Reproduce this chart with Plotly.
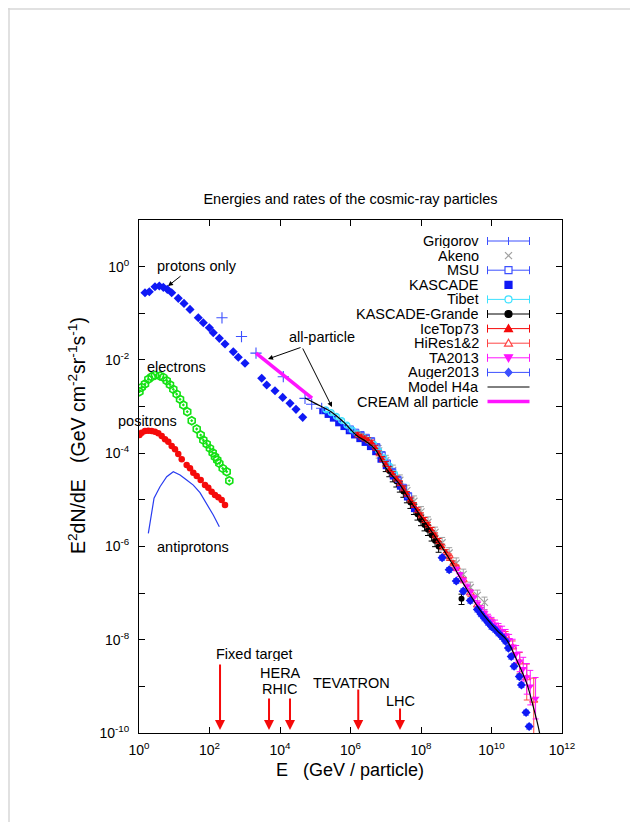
import plotly.graph_objects as go
import math

# ---------------- data ----------------
# protons only (blue diamonds)
protons_E = [1.48, 1.96, 2.84, 3.77, 4.90, 6.35, 8.47, 13.0, 18.9, 28.0, 48.1, 66.7, 98.9, 128, 190, 275, 473, 656, 1016,
             3027, 4198, 7211, 11940, 19230, 28440, 44060]
protons_F = [0.275, 0.290, 0.371, 0.384, 0.360, 0.326, 0.275, 0.209, 0.163, 0.121, 0.080, 0.0627, 0.0490, 0.0383, 0.0290,
             0.0219, 0.0150, 0.0114, 0.00845, 0.00403, 0.00289, 0.00218, 0.00157, 0.00117, 0.000871, 0.000587]

# electrons (green open hexagons)
electrons_E = [1.03, 1.19, 1.48, 1.84, 2.29, 2.84, 3.94, 4.89, 6.11, 7.57, 9.40, 11.7, 14.6, 18.1, 23.4, 31.3, 43.4, 56.2,
               66.7, 83.4, 103, 123, 143, 166, 190, 237, 308, 365]
electrons_F = [2.08e-3, 2.58e-3, 3.04e-3, 3.84e-3, 4.36e-3, 4.67e-3, 4.51e-3, 4.23e-3, 3.58e-3, 2.94e-3, 2.34e-3, 1.85e-3,
               1.43e-3, 1.08e-3, 7.74e-4, 4.97e-4, 3.30e-4, 2.45e-4, 1.91e-4, 1.57e-4, 1.27e-4, 1.02e-4, 8.39e-5, 7.13e-5,
               6.05e-5, 4.73e-5, 4.00e-5, 2.56e-5]

# positrons (red filled circles)
positrons_E = [1.03, 1.19, 1.48, 1.84, 2.29, 2.84, 3.53, 4.41, 5.47, 6.78, 8.47, 10.5, 13.0, 16.3, 22.5, 28.0, 34.7, 43.4,
               56.2, 74.5, 92.5, 115, 143, 178, 222, 275]
positrons_F = [2.45e-4, 2.75e-4, 2.99e-4, 3.03e-4, 2.99e-4, 2.88e-4, 2.67e-4, 2.33e-4, 1.98e-4, 1.76e-4, 1.43e-4, 1.21e-4,
               9.59e-5, 7.38e-5, 5.57e-5, 4.73e-5, 3.81e-5, 3.24e-5, 2.66e-5, 2.07e-5, 1.82e-5, 1.49e-5, 1.27e-5, 1.13e-5,
               9.91e-6, 7.74e-6]

# antiprotons (blue line)
antiprotons_E = [1.84, 2.67, 3.94, 6.11, 9.40, 14.6, 22.5, 34.7, 53.7, 83.4, 128, 190]
antiprotons_F = [1.91e-6, 1.08e-5, 1.91e-5, 3.13e-5, 4.00e-5, 3.40e-5, 2.66e-5, 2.07e-5, 1.42e-5, 8.41e-6, 4.72e-6, 2.65e-6]

# Grigorov
grigorov_E = [226, 809, 2085, 12400, 51200, 79300, 152000]
grigorov_F = [0.080, 0.0317, 0.0140, 0.00436, 0.00150, 0.00112, 0.000916]

# Tibet
tibet_E = [2.00e5, 2.82e5, 3.98e5, 5.62e5, 7.94e5, 1.12e6, 1.58e6, 2.24e6, 3.16e6, 4.47e6, 6.31e6, 8.91e6, 1.26e7, 1.78e7]
tibet_F = [8.51e-4, 7.41e-4, 6.17e-4, 5.01e-4, 3.98e-4, 3.16e-4, 2.63e-4, 2.24e-4, 1.91e-4, 1.58e-4, 1.12e-4, 7.94e-5,
           5.37e-5, 3.63e-5]

# KASCADE
kascade_E = [1.58e5, 2.24e5, 3.16e5, 4.47e5, 6.31e5, 8.91e5, 1.26e6, 1.78e6, 2.51e6, 3.55e6, 5.01e6, 7.08e6, 1.0e7,
             1.58e7, 2.51e7, 3.98e7, 6.31e7]
kascade_F = [7.94e-4, 6.61e-4, 5.50e-4, 4.37e-4, 3.63e-4, 2.95e-4, 2.40e-4, 2.00e-4, 1.66e-4, 1.35e-4, 1.05e-4, 7.24e-5,
             5.25e-5, 3.16e-5, 1.91e-5, 1.12e-5, 6.31e-6]

# MSU
msu_E = [1.0e6, 1.41e6, 2.0e6, 2.82e6, 3.98e6, 5.62e6, 7.94e6, 1.12e7, 1.58e7, 2.24e7, 3.16e7, 4.47e7]
msu_F = [3.31e-4, 2.82e-4, 2.51e-4, 2.19e-4, 1.86e-4, 1.38e-4, 9.33e-5, 6.17e-5, 4.07e-5, 2.75e-5, 1.86e-5, 1.23e-5]

# IceTop73
icetop_E = [1.58e6, 2.00e6, 2.51e6, 3.16e6, 3.98e6, 5.01e6, 6.31e6, 7.94e6, 1.0e7, 1.26e7, 1.58e7, 2.00e7, 2.51e7, 3.16e7,
            3.98e7, 5.01e7, 6.31e7, 7.94e7, 1.0e8, 1.26e8, 1.58e8, 2.00e8, 2.51e8, 3.16e8, 3.98e8, 5.01e8, 6.31e8,
            7.94e8, 1.0e9]
icetop_F = [2.51e-4, 2.29e-4, 2.09e-4, 1.91e-4, 1.70e-4, 1.32e-4, 1.00e-4, 7.59e-5, 5.89e-5, 4.57e-5, 3.63e-5, 2.88e-5,
            2.29e-5, 1.78e-5, 1.35e-5, 1.02e-5, 7.76e-6, 6.03e-6, 4.68e-6, 3.72e-6, 2.95e-6, 2.29e-6, 1.74e-6, 1.32e-6,
            1.00e-6, 7.59e-7, 5.75e-7, 4.37e-7, 3.47e-7]

# KASCADE-Grande
kgrande_E = [1.0e7, 1.26e7, 1.58e7, 2.0e7, 2.51e7, 3.16e7, 3.98e7, 5.01e7, 6.31e7, 7.94e7, 1.0e8, 1.26e8, 1.58e8, 2.0e8,
             2.51e8, 3.16e8, 1.41e9]
kgrande_F = [5.37e-5, 4.17e-5, 3.24e-5, 2.51e-5, 1.95e-5, 1.51e-5, 1.15e-5, 8.71e-6, 6.46e-6, 4.90e-6, 3.72e-6, 2.88e-6,
             2.29e-6, 1.74e-6, 1.32e-6, 1.00e-6, 7.59e-8]

# Akeno
akeno_E = [6.31e6, 1.0e7, 1.58e7, 2.51e7, 3.98e7, 6.31e7, 1.0e8, 1.58e8, 2.51e8, 3.98e8, 6.31e8, 1.0e9, 1.58e9, 2.51e9,
           3.98e9, 6.31e9]
akeno_F = [1.12e-4, 6.92e-5, 4.27e-5, 2.63e-5, 1.58e-5, 9.33e-6, 5.50e-6, 3.31e-6, 2.00e-6, 1.20e-6, 7.24e-7, 4.37e-7,
           2.51e-7, 1.32e-7, 8.91e-8, 6.31e-8]

# HiRes1&2
hires_E = [6.31e8, 1.0e9, 1.58e9, 2.51e9, 3.98e9, 6.31e9, 1.0e10, 1.58e10, 2.51e10, 3.98e10, 6.31e10, 1.0e11, 1.58e11]
hires_F = [6.31e-7, 3.63e-7, 1.91e-7, 1.00e-7, 5.50e-8, 3.47e-8, 2.40e-8, 1.66e-8, 1.20e-8, 6.92e-9, 3.31e-9, 1.51e-9,
           5.01e-10]
hires_err_plus = [6e-8, 4e-8, 2.5e-8, 1.5e-8, 8e-9, 5e-9, 4e-9, 3e-9, 3e-9, 2.5e-9, 2e-9, 1.5e-9, 1.0e-9]
hires_err_minus = [6e-8, 4e-8, 2.5e-8, 1.5e-8, 8e-9, 5e-9, 4e-9, 3e-9, 2.5e-9, 2e-9, 1.4e-9, 1.0e-9, 4.5e-10]

# TA2013
ta_E = [1.0e9, 1.26e9, 1.58e9, 2.0e9, 2.51e9, 3.16e9, 3.98e9, 5.01e9, 6.31e9, 7.94e9, 1.0e10, 1.26e10, 1.58e10, 2.0e10,
        2.51e10, 3.16e10, 3.98e10, 5.01e10, 6.31e10, 7.94e10, 1.0e11, 1.26e11, 1.78e11]
ta_F = [3.31e-7, 2.51e-7, 1.91e-7, 1.41e-7, 1.05e-7, 7.94e-8, 6.03e-8, 4.68e-8, 3.72e-8, 3.02e-8, 2.51e-8, 2.14e-8,
        1.82e-8, 1.55e-8, 1.26e-8, 1.00e-8, 7.24e-9, 5.01e-9, 3.47e-9, 2.40e-9, 1.58e-9, 1.00e-9, 5.50e-10]
ta_err_plus = [3e-8, 2.5e-8, 2e-8, 1.5e-8, 1.2e-8, 1e-8, 8e-9, 7e-9, 6e-9, 5e-9, 5e-9, 5e-9, 4e-9, 4e-9, 4e-9, 3e-9,
               3e-9, 2.5e-9, 2e-9, 1.8e-9, 1.5e-9, 1.2e-9, 1.0e-9]
ta_err_minus = [3e-8, 2.5e-8, 2e-8, 1.5e-8, 1.2e-8, 1e-8, 8e-9, 7e-9, 6e-9, 5e-9, 5e-9, 4e-9, 3.5e-9, 3e-9, 3e-9,
                2.5e-9, 2.2e-9, 1.8e-9, 1.4e-9, 1.1e-9, 0.9e-9, 0.6e-9, 3.5e-10]

# Auger2013
auger_E = [3.98e8, 6.31e8, 1.0e9, 1.58e9, 2.51e9, 3.98e9, 5.01e9, 6.31e9, 7.94e9, 1.0e10, 1.26e10, 1.58e10, 2.0e10,
           2.51e10, 3.02e10, 3.63e10, 4.37e10, 6.17e10, 7.08e10, 9.55e10, 1.17e11]
auger_F = [5.75e-7, 3.16e-7, 1.82e-7, 1.10e-7, 6.92e-8, 4.47e-8, 3.55e-8, 2.88e-8, 2.34e-8, 1.91e-8, 1.66e-8, 1.38e-8,
           1.15e-8, 9.33e-9, 6.61e-9, 4.37e-9, 2.69e-9, 1.62e-9, 1.07e-9, 2.75e-10, 1.38e-10]

# Model H4a (black line)
h4a_E = [5.12e4, 1.0e5, 2.93e5, 6.31e5, 1.50e6, 2.88e6, 5.01e6, 1.06e7, 2.54e7, 4.88e7, 1.0e8, 2.23e8, 6.65e8, 1.58e9,
         4.72e9, 1.40e10, 2.70e10, 5.19e10, 9.98e10, 1.53e11, 2.27e11, 2.63e11]
h4a_F = [1.52e-3, 1.17e-3, 7.59e-4, 4.68e-4, 2.40e-4, 1.74e-4, 1.20e-4, 4.57e-5, 2.09e-5, 9.55e-6, 4.37e-6, 1.86e-6,
         5.13e-7, 1.62e-7, 4.34e-8, 1.61e-8, 9.86e-9, 3.67e-9, 1.16e-9, 3.66e-10, 1.07e-10, 5.0e-11]

# CREAM all particle (magenta thick line)
cream_E = [2085, 80900]
cream_F = [0.0140, 0.00152]

# accelerator energies (red arrows)
accel_names = ["Fixed target", "HERA", "RHIC", "TEVATRON", "LHC"]
accel_E = [199, 4.88e3, 1.92e4, 1.66e6, 2.54e7]

# axis ticks
x_tickvals = [1, 1e2, 1e4, 1e6, 1e8, 1e10, 1e12]
x_ticktext = ["10<sup>0</sup>", "10<sup>2</sup>", "10<sup>4</sup>", "10<sup>6</sup>", "10<sup>8</sup>",
              "10<sup>10</sup>", "10<sup>12</sup>"]
y_tickvals = [1e-10, 1e-9, 1e-8, 1e-7, 1e-6, 1e-5, 1e-4, 1e-3, 1e-2, 1e-1, 1]
y_ticktext = ["10<sup>-10</sup>", "", "10<sup>-8</sup>", "", "10<sup>-6</sup>", "", "10<sup>-4</sup>", "",
              "10<sup>-2</sup>", "", "10<sup>0</sup>"]

legend_names = ["Grigorov", "Akeno", "MSU", "KASCADE", "Tibet", "KASCADE-Grande", "IceTop73", "HiRes1&2",
                "TA2013", "Auger2013", "Model H4a", "CREAM all particle"]

# ---------------- styling ----------------
FONT = "Liberation Sans, Arial, Helvetica, sans-serif"
OFF = 8                      # page body margin of the html page
W, H = 638 - 2 * OFF, 830 - 2 * OFF
PL, PR, PT, PB = 139, 562, 220, 733   # plot area in screen pixels

BLUE = "rgb(15,25,245)"
BLUE_L = "rgb(60,80,255)"
CYAN = "rgb(60,225,255)"
RED = "rgb(245,10,10)"
RED_L = "rgb(255,70,70)"
MAG = "rgb(255,20,255)"
GREEN = "rgb(20,225,20)"
GREY = "rgb(160,160,160)"


def px(x):
    return (x - PL) / (PR - PL)


def py(y):
    return (PB - y) / (PB - PT)


fig = go.Figure()


def add(E, F, **kw):
    fig.add_trace(go.Scatter(x=E, y=F, showlegend=False, **kw))


def errs(color, value=None, plus=None, minus=None):
    if plus is not None:
        return dict(type="data", array=plus, arrayminus=minus, color=color, thickness=1, width=3, visible=True)
    return dict(type="percent", value=value, color=color, thickness=1, width=3, visible=True)


add(akeno_E, akeno_F, name="Akeno", mode="markers",
    marker=dict(symbol="x-thin-open", size=7, line=dict(color=GREY, width=1.2), color=GREY),
    error_y=errs(GREY, value=30))
add(kgrande_E, kgrande_F, name="KASCADE-Grande", mode="markers",
    marker=dict(symbol="circle", size=6, color="black"), error_y=errs("black", value=25))
add(kascade_E, kascade_F, name="KASCADE", mode="markers",
    marker=dict(symbol="square", size=6, color=BLUE))
add(msu_E, msu_F, name="MSU", mode="markers",
    marker=dict(symbol="square-open", size=6, color=BLUE_L, line=dict(width=1)), error_y=errs(BLUE_L, value=10))
add(tibet_E, tibet_F, name="Tibet", mode="markers",
    marker=dict(symbol="circle-open", size=6, color=CYAN, line=dict(width=1.2)), error_y=errs(CYAN, value=8))
add(icetop_E, icetop_F, name="IceTop73", mode="markers",
    marker=dict(symbol="triangle-up", size=6, color=RED), error_y=errs(RED, value=12))
add(hires_E, hires_F, name="HiRes1&2", mode="markers",
    marker=dict(symbol="triangle-up-open", size=7, color=RED_L, line=dict(width=1.2)),
    error_y=errs(RED_L, plus=hires_err_plus, minus=hires_err_minus))
add(ta_E, ta_F, name="TA2013", mode="markers",
    marker=dict(symbol="triangle-down", size=7, color=MAG),
    error_y=errs(MAG, plus=ta_err_plus, minus=ta_err_minus))
add(auger_E, auger_F, name="Auger2013", mode="markers",
    marker=dict(symbol="diamond", size=7, color=BLUE), error_y=errs(BLUE_L, value=12))
add(grigorov_E, grigorov_F, name="Grigorov", mode="markers",
    marker=dict(symbol="cross-thin-open", size=8, color=BLUE_L, line=dict(color=BLUE_L, width=1.1)))
add(protons_E, protons_F, name="protons only", mode="markers",
    marker=dict(symbol="diamond", size=7, color=BLUE))
add(electrons_E, electrons_F, name="electrons", mode="markers",
    marker=dict(symbol="hexagon-open-dot", size=8, color=GREEN, line=dict(color=GREEN, width=1.6)))
add(positrons_E, positrons_F, name="positrons", mode="markers",
    marker=dict(symbol="circle", size=6.5, color=RED))
add(antiprotons_E, antiprotons_F, name="antiprotons", mode="lines",
    line=dict(color="rgb(40,60,240)", width=1.2))
add(h4a_E, h4a_F, name="Model H4a", mode="lines", line=dict(color="black", width=1.2, shape="spline"))
add(cream_E, cream_F, name="CREAM all particle", mode="lines", line=dict(color=MAG, width=3.5))

annotations = []
shapes = []


def text(s, x, y, xanchor="center", size=14.5, **kw):
    annotations.append(dict(text=s, x=px(x), y=py(y), xref="paper", yref="paper", xanchor=xanchor,
                            yanchor="middle", showarrow=False, font=dict(family=FONT, size=size, color="black"), **kw))


def arrow(xt, yt, ax, ay, color="black", width=1):
    annotations.append(dict(text="", x=px(xt), y=py(yt), xref="paper", yref="paper", ax=ax, ay=ay,
                            showarrow=True, arrowhead=2, arrowsize=1.0, arrowwidth=width, arrowcolor=color))


# labels on the data
text("protons only", 155, 266, xanchor="left")
arrow(168, 286, 14, -11)
text("electrons", 145, 367, xanchor="left")
text("positrons", 179, 421, xanchor="right")
text("antiprotons", 155, 547, xanchor="left")
text("all-particle", 287, 337, xanchor="left")
arrow(268, 359, 34, -12)
arrow(332, 407, -30, -60)

# accelerator arrows (x from data energies, on the log axis)
accel_label_pos = [(254, 653), (280, 672), (279, 688), (351, 682), (400, 700)]
accel_tail = [67, 33, 33, 42, 23]
for name, e, (lx, ly), tl in zip(accel_names, accel_E, accel_label_pos, accel_tail):
    annotations.append(dict(text="", x=math.log10(e), y=py(730), xref="x", yref="paper", ax=0, ay=-tl,
                            showarrow=True, arrowhead=2, arrowsize=1.0, arrowwidth=2, arrowcolor=RED))
    text(name, lx, ly, height=15)

# axis titles
text("E\u00a0\u00a0\u00a0(GeV / particle)", 350, 770, size=18)
text("E<sup>2</sup>dN/dE\u00a0\u00a0\u00a0(GeV cm<sup>-2</sup>sr<sup>-1</sup>s<sup>-1</sup>)", 77, 436, size=19.5,
     textangle=-90)

# custom legend: text on the left, sample on the right
leg_colors = [BLUE_L, GREY, BLUE_L, BLUE, CYAN, "black", RED, RED_L, MAG, BLUE_L, "black", MAG]
x0, x1, xm = 487.5, 529.5, 508.5
for i, (name, col) in enumerate(zip(legend_names, leg_colors)):
    y = 241 + 14.6 * i
    text(name, 481, y, xanchor="right", size=14.5, height=14, valign="middle")
    if name in ("Akeno", "KASCADE"):
        pass
    elif name == "Model H4a":
        shapes.append(dict(type="line", xref="paper", yref="paper", x0=px(x0), x1=px(x1), y0=py(y), y1=py(y),
                           line=dict(color="black", width=1)))
    elif name == "CREAM all particle":
        shapes.append(dict(type="line", xref="paper", yref="paper", x0=px(x0), x1=px(x1), y0=py(y), y1=py(y),
                           line=dict(color=MAG, width=3.5)))
    else:
        shapes.append(dict(type="line", xref="paper", yref="paper", x0=px(x0), x1=px(x1), y0=py(y), y1=py(y),
                           line=dict(color=col, width=1)))
        for xc in (x0, x1):
            shapes.append(dict(type="line", xref="paper", yref="paper", x0=px(xc), x1=px(xc), y0=py(y - 4),
                               y1=py(y + 4), line=dict(color=col, width=1)))
    r = 3.5
    if name == "Grigorov":
        shapes.append(dict(type="line", xref="paper", yref="paper", x0=px(xm), x1=px(xm), y0=py(y - 4),
                           y1=py(y + 4), line=dict(color=col, width=1)))
    elif name == "Akeno":
        for dx in (-1, 1):
            shapes.append(dict(type="line", xref="paper", yref="paper", x0=px(xm - 3.5 * dx), x1=px(xm + 3.5 * dx),
                               y0=py(y - 3.5), y1=py(y + 3.5), line=dict(color=col, width=1.2)))
    elif name in ("MSU", "KASCADE"):
        filled = name == "KASCADE"
        shapes.append(dict(type="rect", xref="paper", yref="paper", x0=px(xm - r), x1=px(xm + r), y0=py(y - r),
                           y1=py(y + r), line=dict(color=col, width=1.2), fillcolor=col if filled else "white"))
    elif name in ("Tibet", "KASCADE-Grande"):
        filled = name == "KASCADE-Grande"
        shapes.append(dict(type="circle", xref="paper", yref="paper", x0=px(xm - r), x1=px(xm + r), y0=py(y - r),
                           y1=py(y + r), line=dict(color=col, width=1.2), fillcolor=col if filled else "white"))
    elif name in ("IceTop73", "HiRes1&2", "TA2013", "Auger2013"):
        if name == "TA2013":
            pts = [(xm - 4, y - 3), (xm + 4, y - 3), (xm, y + 4)]
        elif name == "Auger2013":
            pts = [(xm, y - 4), (xm + 3.5, y), (xm, y + 4), (xm - 3.5, y)]
        else:
            pts = [(xm - 4, y + 3), (xm + 4, y + 3), (xm, y - 4)]
        path = "M " + " L ".join(f"{px(a):.5f},{py(b):.5f}" for a, b in pts) + " Z"
        filled = name != "HiRes1&2"
        shapes.append(dict(type="path", xref="paper", yref="paper", path=path,
                           line=dict(color=col, width=1.2), fillcolor=col if filled else "white"))

# faint page frame seen in the reference (as close to the edge as the figure allows)
shapes.append(dict(type="line", xref="paper", yref="paper", x0=px(OFF + 1), x1=px(OFF + 1), y0=py(OFF),
                   y1=py(830 - OFF), line=dict(color="rgb(215,215,215)", width=1.5)))
shapes.append(dict(type="line", xref="paper", yref="paper", x0=px(OFF), x1=px(638 - OFF), y0=py(OFF + 1),
                   y1=py(OFF + 1), line=dict(color="rgb(215,215,215)", width=1.5)))

axis_common = dict(type="log", showgrid=False, zeroline=False, showline=True, linecolor="black", linewidth=1,
                   mirror="ticks", ticks="inside", ticklen=6, tickwidth=1, tickcolor="black",
                   tickfont=dict(family=FONT, size=14, color="black"))

fig.update_layout(
    width=W, height=H, autosize=False,
    margin=dict(l=PL - OFF, r=638 - OFF - PR, t=PT - OFF, b=830 - OFF - PB, pad=0),
    paper_bgcolor="white", plot_bgcolor="white",
    font=dict(family=FONT, size=14, color="black"),
    title=dict(text="Energies and rates of the cosmic-ray particles", x=0.5, xref="paper", xanchor="center",
               y=1 - (199 - OFF) / H, yref="container", yanchor="middle",
               font=dict(family=FONT, size=14.5, color="black")),
    xaxis=dict(range=[0, 12], tickvals=x_tickvals, ticktext=x_ticktext, ticklabelstandoff=4, **axis_common),
    yaxis=dict(range=[-10, 1], tickvals=y_tickvals, ticktext=y_ticktext, ticklabelstandoff=6, **axis_common),
    showlegend=False,
    annotations=annotations,
    shapes=shapes,
)

fig.write_html("out.html")
